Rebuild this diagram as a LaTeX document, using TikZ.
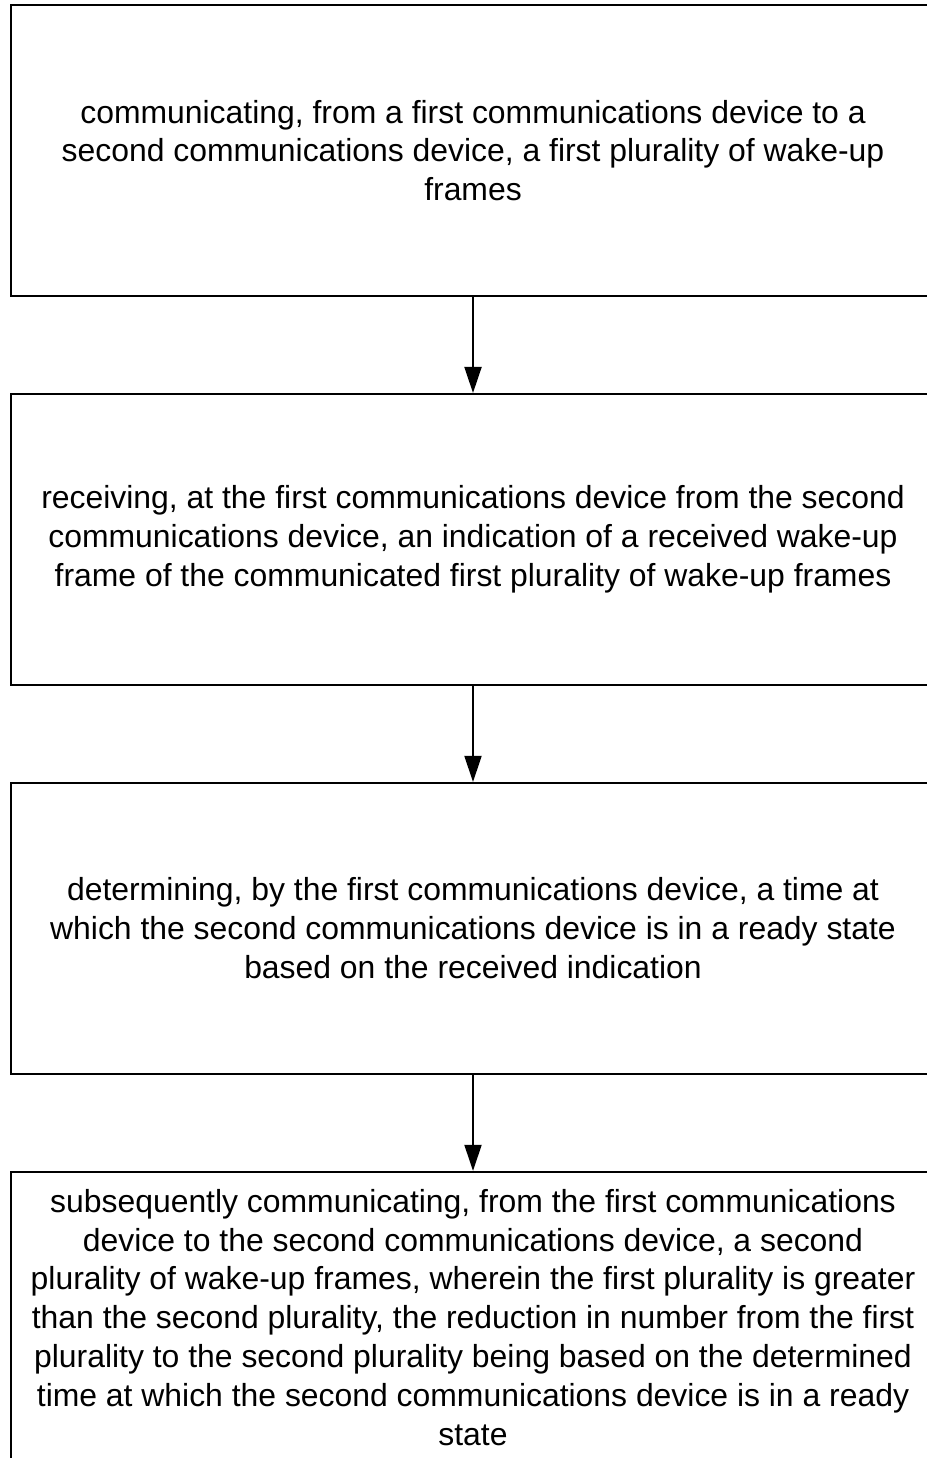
\documentclass[tikz,border=0pt]{standalone}
\usepackage{fontspec}
\setmainfont{Liberation Sans}
\usepackage{tikz}
\usetikzlibrary{arrows.meta,positioning}

\tikzset{
    stepbox/.style={draw, line width=1.1pt, minimum width=18.48cm, minimum height=5.82cm,
        align=center, inner sep=0pt, font=\fontsize{18.15}{22.1}\selectfont},
    flowarrow/.style={line width=1.1pt, -{Triangle[width=0.34cm,length=0.52cm]}}
}

\begin{document}
\begin{tikzpicture}[node distance=1.92cm]
    %% Page frame (the boxes run past the right and bottom edge)
    \path[use as bounding box, clip]
    (0,0) rectangle (18.54,-29.16)
    ;

    %% Steps
    \node[stepbox] (send) at (9.46,-3.01)
    {communicating, from a first communications device to a\\
    second communications device, a first plurality of wake-up\\
    frames};
    \node[stepbox, below=of send] (receive)
    {receiving, at the first communications device from the second\\
    communications device, an indication of a received wake-up\\
    frame of the communicated first plurality of wake-up frames};
    \node[stepbox, below=of receive] (determine)
    {determining, by the first communications device, a time at\\
    which the second communications device is in a ready state\\
    based on the received indication};
    \node[stepbox, below=of determine] (resend)
    {subsequently communicating, from the first communications\\
    device to the second communications device, a second\\
    plurality of wake-up frames, wherein the first plurality is greater\\
    than the second plurality, the reduction in number from the first\\
    plurality to the second plurality being based on the determined\\
    time at which the second communications device is in a ready\\
    state};

    %% Arrows
    \draw[flowarrow]
    (send) to (receive)
    ;
    \draw[flowarrow]
    (receive) to (determine)
    ;
    \draw[flowarrow]
    (determine) to (resend)
    ;
\end{tikzpicture}
\end{document}
